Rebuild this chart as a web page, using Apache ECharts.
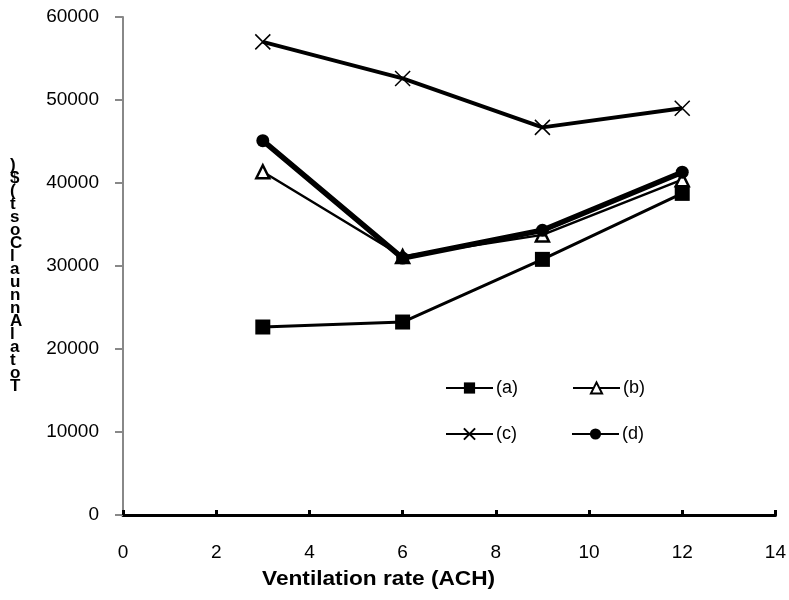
<!DOCTYPE html>
<html><head><meta charset="utf-8">
<script src="https://cdn.jsdelivr.net/npm/echarts@6/dist/echarts.min.js"></script>
<style>html,body{margin:0;padding:0;background:#fff}#c{width:789px;height:600px}</style>
</head><body><div id="c"></div>
<script>
const xValues = [3, 6, 9, 12];
const seriesNames = ['(a)', '(b)', '(c)', '(d)'];
const valuesA = [22650, 23250, 30800, 38750];
const valuesB = [41350, 31150, 33750, 40400];
const valuesC = [57000, 52600, 46700, 49000];
const valuesD = [45100, 30950, 34300, 41300];
const xTicks = [0, 2, 4, 6, 8, 10, 12, 14];
const yTicks = [0, 10000, 20000, 30000, 40000, 50000, 60000];
const yTitle = 'Total Annual Cost ($)';
const xTitle = 'Ventilation rate (ACH)';

const font = '"Liberation Sans", Arial, sans-serif';
const pts = v => xValues.map((x, i) => [x, v[i]]);
const crossPath = 'path://M0,0L10,10M10,0L0,10';

const chart = echarts.init(document.getElementById('c'));
const stackedTitle = yTitle.replace(/ /g, '').split('').reverse().join('\n');

chart.setOption({
  animation: false,
  grid: {left: 123, right: 12, top: 17, bottom: 85},
  xAxis: {
    type: 'value', min: xTicks[0], max: xTicks[xTicks.length - 1], interval: 2,
    axisLine: {lineStyle: {color: '#000', width: 3}},
    axisTick: {show: true, inside: true, length: 5, lineStyle: {color: '#000', width: 3}},
    axisLabel: {color: '#000', fontSize: 19, fontFamily: font, margin: 28},
    splitLine: {show: false}
  },
  yAxis: {
    type: 'value', min: yTicks[0], max: yTicks[yTicks.length - 1], interval: 10000,
    axisLine: {show: true, lineStyle: {color: '#888', width: 2}},
    axisTick: {show: true, length: 8, lineStyle: {color: '#888', width: 2}},
    axisLabel: {color: '#000', fontSize: 19, fontFamily: font, margin: 24, formatter: v => String(v)},
    splitLine: {show: false}
  },
  legend: [
    {data: ['(a)', '(b)'], left: 445, top: 379, padding: 0, itemWidth: 47, itemHeight: 14, itemGap: 54,
     textStyle: {fontSize: 18, fontFamily: font, color: '#000', padding: [0, 0, 0, -2]}},
    {data: ['(c)', '(d)'], left: 445, top: 425, padding: 0, itemWidth: 47, itemHeight: 14, itemGap: 54,
     textStyle: {fontSize: 18, fontFamily: font, color: '#000', padding: [0, 0, 0, -2]}}
  ],
  graphic: [
    {type: 'text', left: 10, top: 157, style: {text: stackedTitle, font: 'bold 17px ' + font, fill: '#000', lineHeight: 13, align: 'center'}},
    {type: 'text', x: 262, y: 569, scaleX: 1.08, style: {text: xTitle, font: 'bold 21px ' + font, fill: '#000'}}
  ],
  series: [
    {name: seriesNames[0], type: 'line', data: pts(valuesA), symbol: 'rect', symbolSize: 15,
     lineStyle: {color: '#000', width: 3}, itemStyle: {color: '#000'}, z: 2},
    {name: seriesNames[1], type: 'line', data: pts(valuesB), symbol: 'triangle', symbolSize: 13,
     lineStyle: {color: '#000', width: 2.5}, itemStyle: {color: '#fff', borderColor: '#000', borderWidth: 2.5}, z: 3},
    {name: seriesNames[2], type: 'line', data: pts(valuesC), symbol: crossPath, symbolSize: 15,
     lineStyle: {color: '#000', width: 4}, itemStyle: {color: 'none', borderColor: '#000', borderWidth: 1.5}, z: 4},
    {name: seriesNames[3], type: 'line', data: pts(valuesD), symbol: 'circle', symbolSize: 13,
     lineStyle: {color: '#000', width: 5.5}, itemStyle: {color: '#000'}, z: 5}
  ]
});
</script>
</body></html>
